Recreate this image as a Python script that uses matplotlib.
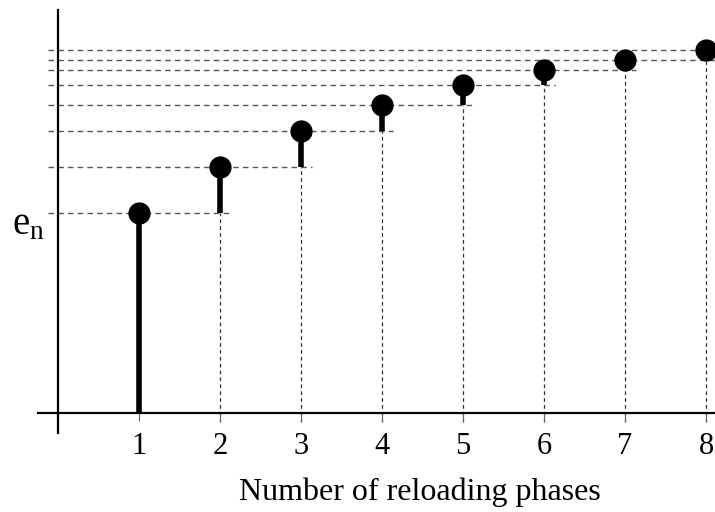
import matplotlib.pyplot as plt
import numpy as np

plt.rcParams["font.family"] = ["Liberation Serif", "DejaVu Serif"]
plt.rcParams["mathtext.fontset"] = "custom"
plt.rcParams["mathtext.rm"] = "Liberation Serif"

phases = [1, 2, 3, 4, 5, 6, 7, 8]
e_n = [0.50, 0.615, 0.705, 0.77, 0.82, 0.857, 0.882, 0.908]
tick_labels = ["1", "2", "3", "4", "5", "6", "7", "8"]

fig = plt.figure(figsize=(7.15, 5.12), dpi=100)
ax = fig.add_axes([0, 0, 1, 1])
# 81 px per phase, 400 px per unit of e; origin at pixel (58, 413)
ax.set_xlim(-58 / 81, (715 - 58) / 81)
ax.set_ylim(-(512 - 413) / 400, 413 / 400)

prev = [0.0] + e_n[:-1]
dash_col = "#555555"
for i, (x, y) in enumerate(zip(phases, e_n)):
    # thin dashed stem up to the previous level
    if i > 0:
        ax.plot([x, x], [-0.023, prev[i]], ls=(0, (3, 2.5)), color="#333333", lw=0.9, zorder=1)
    # thick increment
    ax.plot([x, x], [prev[i], y], color="black", lw=4, solid_capstyle="butt", zorder=3)
    ax.plot(x, y, "o", color="black", ms=15, zorder=4)
    # horizontal dashed level line to the next phase
    ax.plot([-0.123, x + 1.13], [y, y], ls=(0, (4, 3)), color=dash_col, lw=1.0, zorder=1)

for s in ["top", "right"]:
    ax.spines[s].set_visible(False)
ax.spines["left"].set_position(("data", 0))
ax.spines["bottom"].set_position(("data", 0))
ax.spines["left"].set_bounds(-0.05, 1.0075)
ax.spines["bottom"].set_bounds(-0.247, 8.2)
ax.spines["left"].set_linewidth(1.6)
ax.spines["bottom"].set_linewidth(1.6)

ax.set_xticks(phases)
ax.set_xticklabels(tick_labels, fontsize=22)
ax.tick_params(axis="x", length=5.5, width=0.8, color="#666666", pad=8)
ax.set_yticks([])

ax.text(-0.36, 0.47, r"$\mathregular{e_n}$", fontsize=28, ha="center", va="center")
ax.text(4.47, -0.197, "Number of reloading phases", fontsize=23, ha="center", va="center")

fig.savefig("out.png", dpi=100)
